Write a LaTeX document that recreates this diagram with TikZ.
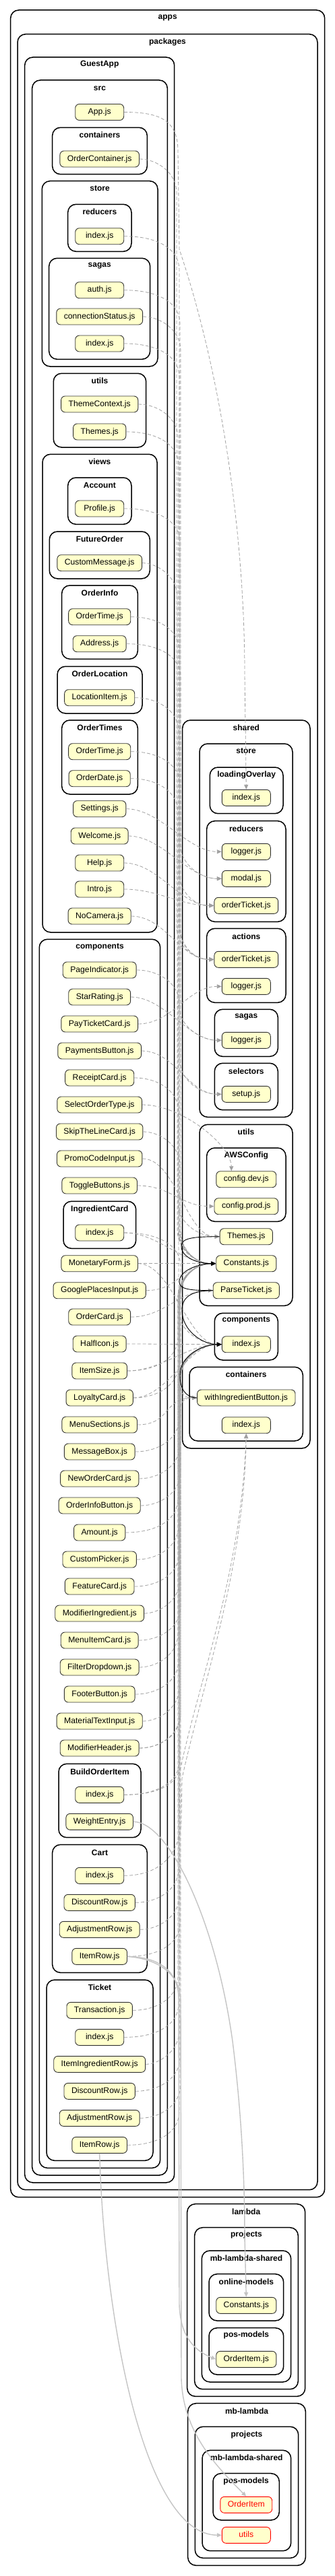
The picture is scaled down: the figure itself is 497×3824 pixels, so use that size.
\documentclass[tikz,border=0pt]{standalone}
\usepackage{fontspec}
\setmainfont{Liberation Sans}
\usetikzlibrary{arrows.meta,calc}
\definecolor{nodefill}{HTML}{FFFFCC}
\definecolor{depgray}{HTML}{A0A0A0}
\definecolor{solidgray}{HTML}{C4C4C4}
\tikzset{
 file/.style={draw=black!80, fill=nodefill, rounded corners=6pt, minimum width=72pt, minimum height=24pt, inner xsep=11pt, inner ysep=0pt, line width=0.9pt, font=\fontsize{12.2}{14}\selectfont, text height=9pt, text depth=2.5pt},
 badfile/.style={file, draw=red, text=red},
 cluster/.style={draw=black, line width=1.5pt, rounded corners=12pt},
 clabel/.style={font=\fontsize{12}{14}\selectfont\bfseries, inner sep=0pt},
 dep/.style={draw=depgray, line width=0.8pt, dash pattern=on 5pt off 3pt, -{Triangle[length=7pt,width=6pt]}},
 blk/.style={draw=black, line width=0.9pt, -{Triangle[length=7pt,width=6pt]}},
 sol/.style={draw=solidgray, line width=1.4pt, -{Triangle[length=7pt,width=6pt]}},
}
\newcommand\clus[7]{%
  \draw[cluster] (#1,#2) rectangle (#3,#4);
  \node[clabel] (#7) at ({(#1+#3)/2},#5) {#6};
}
\newcommand\depB[5][dep]{%
  \draw[#1] let \p1=(#2.east), \p2=(#3.#4), \n1={sign(\y2-\y1)} in
   (\p1) .. controls ({#5pt-30pt},\y1) and (#5pt,{\y1+(\n1)*20pt}) .. (#5pt,{\y1+(\n1)*50pt})
   -- (#5pt,{\y2-(\n1)*50pt}) .. controls (#5pt,{\y2-(\n1)*20pt}) and ({\x2-30pt},\y2) .. (\p2);
}
\newcommand\depS[4][dep]{%
  \draw[#1] let \p1=(#2.east), \p2=(#3.#4) in
   (\p1) .. controls ({\x1+50pt},\y1) and ({\x2-50pt},\y2) .. (\p2);
}
\begin{document}
\begin{tikzpicture}[x=1pt,y=-1pt]
\useasboundingbox (0,0) rectangle (497,3824);
% clusters
\clus{15.7}{15}{481.7}{3261.7}{27}{apps}{c-apps}
\clus{26}{50.7}{471}{3250.7}{62}{packages}{c-packages}
\clus{36.7}{85}{258.7}{3240}{96}{GuestApp}{c-guest}
\clus{47.7}{119}{248.3}{3229}{131}{src}{c-src}
\clus{77.7}{189.3}{218.3}{258.7}{200}{containers}{c-gcont}
\clus{62.3}{268.7}{234}{544}{279.3}{store}{c-gstore}
\clus{100.7}{303.3}{195}{373.3}{314}{reducers}{c-gred}
\clus{72.7}{383.3}{222.7}{533.3}{395}{sagas}{c-gsagas}
\clus{79.3}{554.3}{216.7}{664}{565.7}{utils}{c-gutils}
\clus{63}{674.3}{233}{1384}{685.7}{views}{c-views}
\clus{100.7}{709}{195}{778.3}{720}{Account}{c-account}
\clus{73.3}{789}{222.3}{859}{800}{FutureOrder}{c-future}
\clus{91.7}{869}{204.3}{978.3}{880}{OrderInfo}{c-oinfo}
\clus{85}{989.3}{211}{1059}{1000}{OrderLocation}{c-oloc}
\clus{91.7}{1069}{204.3}{1179}{1080}{OrderTimes}{c-otimes}
\clus{58.3}{1394.3}{237.7}{3218.3}{1406}{components}{c-gcomp}
\clus{94}{1783.3}{201.7}{1853.3}{1795}{IngredientCard}{c-ingr}
\clus{87}{2618.3}{209}{2727.7}{2630}{BuildOrderItem}{c-boi}
\clus{77.7}{2738.3}{218.3}{2928.3}{2750}{Cart}{c-cart}
\clus{69}{2939}{227}{3207.3}{2950}{Ticket}{c-ticket}
\clus{270.7}{1069}{460}{2150}{1080}{shared}{c-shared}
\clus{296}{1104}{434}{1658.3}{1115}{store}{c-sstore}
\clus{311.3}{1139}{420}{1207.7}{1150}{loadingOverlay}{c-lo}
\clus{306.7}{1218.7}{424}{1368.3}{1230}{reducers}{c-sred}
\clus{306.7}{1378.3}{424}{1488.3}{1390}{actions}{c-sact}
\clus{318.3}{1498.3}{412.3}{1568.3}{1510}{sagas}{c-ssagas}
\clus{318.3}{1578.3}{412.3}{1647.7}{1590}{selectors}{c-ssel}
\clus{296}{1669.3}{434}{1938.3}{1680}{utils}{c-sutils}
\clus{306.7}{1704}{424}{1813.3}{1715}{AWSConfig}{c-aws}
\clus{318.3}{1949.3}{412.3}{2019}{1960}{components}{c-scomp}
\clus{281}{2029.3}{449.3}{2139}{2040}{containers}{c-scont}
\clus{277.7}{3271.7}{452.7}{3557.3}{3282.7}{lambda}{c-lambda}
\clus{288.7}{3306.7}{442.3}{3546.7}{3317.7}{projects}{c-lproj}
\clus{299.3}{3341}{431.7}{3536}{3351.7}{mb-lambda-shared}{c-lmls}
\clus{310}{3375.7}{420.7}{3445}{3386.7}{online-models}{c-lonline}
\clus{310}{3455.7}{420.7}{3525}{3466.7}{pos-models}{c-lpos}
\clus{278.7}{3567.7}{453.3}{3808.3}{3579}{mb-lambda}{c-mbl}
\clus{289.3}{3602.3}{442.7}{3797.3}{3614}{projects}{c-mproj}
\clus{300}{3637.3}{431.7}{3786.7}{3648.3}{mb-lambda-shared}{c-mmls}
\clus{316}{3671.7}{414.3}{3741}{3683.3}{pos-models}{c-mpos}
% GuestApp nodes
\node[file] (appjs) at (147.7,166.5) {App.js};
\node[file] (ordercontainer) at (147.7,236) {OrderContainer.js};
\node[file] (redindex) at (147.7,350.7) {index.js};
\node[file] (auth) at (147.7,430.7) {auth.js};
\node[file] (connstatus) at (147.7,470) {connectionStatus.js};
\node[file] (sagaindex) at (147.7,510) {index.js};
\node[file] (themectx) at (147.7,600) {ThemeContext.js};
\node[file] (themesg) at (147.7,641) {Themes.js};
\node[file] (profile) at (147.7,755) {Profile.js};
\node[file] (custommsg) at (147.7,835.7) {CustomMessage.js};
\node[file] (oitime) at (147.7,915.7) {OrderTime.js};
\node[file] (address) at (147.7,955.7) {Address.js};
\node[file] (locitem) at (147.7,1035.7) {LocationItem.js};
\node[file] (ottime) at (147.7,1115.7) {OrderTime.js};
\node[file] (otdate) at (147.7,1155.7) {OrderDate.js};
\node[file] (settings) at (147.7,1200.7) {Settings.js};
\node[file] (welcome) at (147.7,1241) {Welcome.js};
\node[file] (help) at (147.7,1281) {Help.js};
\node[file] (intro) at (147.7,1320) {Intro.js};
\node[file] (nocamera) at (147.7,1360) {NoCamera.js};
\node[file] (pageind) at (147.7,1440) {PageIndicator.js};
\node[file] (star) at (147.7,1480) {StarRating.js};
\node[file] (payticket) at (147.7,1520) {PayTicketCard.js};
\node[file] (paybtn) at (147.7,1560) {PaymentsButton.js};
\node[file] (receipt) at (147.7,1600) {ReceiptCard.js};
\node[file] (selorder) at (147.7,1640) {SelectOrderType.js};
\node[file] (skip) at (147.7,1680) {SkipTheLineCard.js};
\node[file] (promo) at (147.7,1720) {PromoCodeInput.js};
\node[file] (toggle) at (147.7,1760) {ToggleButtons.js};
\node[file] (icindex) at (147.7,1830) {index.js};
\node[file] (monetary) at (147.7,1875.7) {MonetaryForm.js};
\node[file] (google) at (147.7,1915.7) {GooglePlacesInput.js};
\node[file] (ordercard) at (147.7,1955) {OrderCard.js};
\node[file] (halficon) at (147.7,1995) {HalfIcon.js};
\node[file] (itemsize) at (147.7,2035) {ItemSize.js};
\node[file] (loyalty) at (147.7,2075) {LoyaltyCard.js};
\node[file] (menusec) at (147.7,2115) {MenuSections.js};
\node[file] (msgbox) at (147.7,2155) {MessageBox.js};
\node[file] (neworder) at (147.7,2195) {NewOrderCard.js};
\node[file] (oibutton) at (147.7,2235) {OrderInfoButton.js};
\node[file] (amount) at (147.7,2275) {Amount.js};
\node[file] (picker) at (147.7,2315) {CustomPicker.js};
\node[file] (feature) at (147.7,2355) {FeatureCard.js};
\node[file] (modingr) at (147.7,2395) {ModifierIngredient.js};
\node[file] (menuitem) at (147.7,2435) {MenuItemCard.js};
\node[file] (filter) at (147.7,2475) {FilterDropdown.js};
\node[file] (footer) at (147.7,2515) {FooterButton.js};
\node[file] (mati) at (147.7,2555) {MaterialTextInput.js};
\node[file] (modhead) at (147.7,2595) {ModifierHeader.js};
\node[file] (boindex) at (147.7,2664.3) {index.js};
\node[file] (weight) at (147.7,2704.3) {WeightEntry.js};
\node[file] (cartindex) at (147.7,2784.3) {index.js};
\node[file] (cartdisc) at (147.7,2824.3) {DiscountRow.js};
\node[file] (cartadj) at (147.7,2864.3) {AdjustmentRow.js};
\node[file] (cartitem) at (147.7,2904.3) {ItemRow.js};
\node[file] (trans) at (147.7,2984.3) {Transaction.js};
\node[file] (tindex) at (147.7,3024.3) {index.js};
\node[file] (tingr) at (147.7,3064.3) {ItemIngredientRow.js};
\node[file] (tdisc) at (147.7,3104.3) {DiscountRow.js};
\node[file] (tadj) at (147.7,3144.3) {AdjustmentRow.js};
\node[file] (titem) at (147.7,3184.3) {ItemRow.js};
% shared nodes
\node[file] (loindex) at (365.3,1184.3) {index.js};
\node[file] (rlogger) at (365.3,1264.3) {logger.js};
\node[file] (rmodal) at (365.3,1304.3) {modal.js};
\node[file] (rorder) at (365.3,1344.3) {orderTicket.js};
\node[file] (aorder) at (365.3,1424.3) {orderTicket.js};
\node[file] (alogger) at (365.3,1464.3) {logger.js};
\node[file] (slogger) at (365.3,1544.3) {logger.js};
\node[file] (setup) at (365.3,1624.3) {setup.js};
\node[file] (cdev) at (365.3,1750.7) {config.dev.js};
\node[file] (cprod) at (365.3,1790.7) {config.prod.js};
\node[file] (sthemes) at (365.3,1835.7) {Themes.js};
\node[file] (consts) at (365.3,1875.7) {Constants.js};
\node[file] (parse) at (365.3,1915.7) {ParseTicket.js};
\node[file] (cindex) at (365.3,1995.7) {index.js};
\node[file] (withingr) at (365.3,2075) {withIngredientButton.js};
\node[file] (contindex) at (365.3,2115.7) {index.js};
% lambda nodes
\node[file] (lconst) at (365.3,3422.3) {Constants.js};
\node[file] (lorder) at (365.3,3502.3) {OrderItem.js};
\node[badfile] (morder) at (365.3,3718.3) {OrderItem};
\node[badfile] (mutils) at (365.3,3763.3) {utils};
% dashed dependencies
\draw[dep] (appjs.east) .. controls (240,166.5) and (264,180) .. (264,225) -- (266,370) .. controls (330,560) and (363,800) .. (363,1000) -- (loindex.north);
\depB{ordercontainer}{aorder}{west}{262}
\depB{redindex}{rorder}{west}{266}
\depB{auth}{setup}{west}{267}
\depB{connstatus}{rmodal}{west}{268}
\depB{sagaindex}{slogger}{west}{266}
\depB{themectx}{sthemes}{west}{264}
\depB{themesg}{consts}{west}{265}
\depB{profile}{consts}{west}{267}
\depB{custommsg}{consts}{west}{263}
\depB{oitime}{aorder}{west}{266}
\depB{address}{consts}{west}{268}
\depB{locitem}{cindex}{west}{265}
\depB{ottime}{aorder}{west}{267}
\depB{otdate}{consts}{west}{264}
\depS{settings}{rlogger}{west}
\depS{welcome}{rmodal}{west}
\depS{help}{rorder}{west}
\depS{intro}{rorder}{west}
\depS{nocamera}{aorder}{west}
\depB{pageind}{consts}{west}{266}
\depS{star}{slogger}{west}
\depS{payticket}{alogger}{west}
\depS{paybtn}{setup}{west}
\depB{receipt}{consts}{west}{265}
\draw[dep] (selorder.east) .. controls (270,1640) and (343,1700) .. ($(cdev.north)+(-22,0)$);
\depB{skip}{consts}{west}{267}
\depS{promo}{sthemes}{west}
\depS{toggle}{cprod}{west}
\depS{icindex}{consts}{west}
\depB{icindex}{withingr}{west}{268}
\depS{monetary}{consts}{west}
\depS{monetary}{cindex}{west}
\depS{google}{consts}{west}
\depS{ordercard}{parse}{west}
\depS{halficon}{cindex}{west}
\depS{itemsize}{cindex}{west}
\depB{itemsize}{consts}{west}{264}
\depS{loyalty}{cindex}{west}
\depB{loyalty}{consts}{west}{265}
\depS{menusec}{withingr}{west}
\depB{msgbox}{cindex}{west}{266}
\depB{neworder}{consts}{west}{267}
\depB{oibutton}{cindex}{west}{268}
\depB{amount}{consts}{west}{264}
\depB{picker}{cindex}{west}{265}
\depB{feature}{consts}{west}{266}
\depB{modingr}{withingr}{west}{267}
\depB{menuitem}{cindex}{west}{268}
\depB{filter}{consts}{west}{264}
\depB{footer}{cindex}{west}{265}
\depB{mati}{consts}{west}{266}
\depB{modhead}{consts}{west}{267}
\depB{modhead}{cindex}{west}{268}
\depB{boindex}{consts}{west}{266}
\draw[dep] (boindex.east) .. controls (235,2664) and (265,2650) .. (270,2615) .. controls (300,2480) and (358,2330) .. (contindex.south);
\draw[dep] (cartindex.east) .. controls (240,2784) and (268,2750) .. (269,2700) -- (270,2640) .. controls (303,2490) and (362,2330) .. (contindex.south);
\depB{cartdisc}{consts}{west}{265}
\depB{cartadj}{cindex}{west}{266}
\depB{cartitem}{consts}{west}{267}
\depB{trans}{cindex}{west}{264}
\depB{tindex}{consts}{west}{265}
\depB{tingr}{cindex}{west}{266}
\depB{tdisc}{consts}{west}{267}
\depB{tadj}{cindex}{west}{268}
\depB{titem}{consts}{west}{266}
% black dependencies (within shared)
\draw[blk] (sthemes.west) .. controls (285,1835.7) and (269,1838) .. (269,1850) .. controls (269,1866) and (292,1875.7) .. (consts.west);
\draw[blk] (parse.west) .. controls (282,1915.7) and (266,1914) .. (266,1903) .. controls (266,1886) and (294,1876) .. (consts.west);
\draw[blk] (parse.west) .. controls (284,1916) and (270,1925) .. (270,1945) .. controls (270,1975) and (300,1995.7) .. (cindex.west);
\draw[blk] (withingr.west) .. controls (276,2075) and (267,2062) .. (267,2042) .. controls (267,2012) and (300,1996) .. (cindex.west);
% solid gray dependencies
\draw[sol] (weight.east) .. controls (250,2704) and (320,2850) .. (345,3030) .. controls (360,3150) and (363,3250) .. (363,3320) -- (lconst.north);
\draw[sol] (cartitem.east) .. controls (235,2905) and (264,2925) .. (265,2965) -- (266,3420) .. controls (267,3470) and (290,3490) .. (lorder.west);
\draw[sol] (cartitem.east) .. controls (235,2908) and (267,2930) .. (268,2970) -- (269,3530) .. controls (271,3610) and (320,3660) .. (morder.north);
\draw[sol] (titem.south) .. controls (155,3450) and (215,3763) .. (mutils.west);
\end{tikzpicture}
\end{document}
